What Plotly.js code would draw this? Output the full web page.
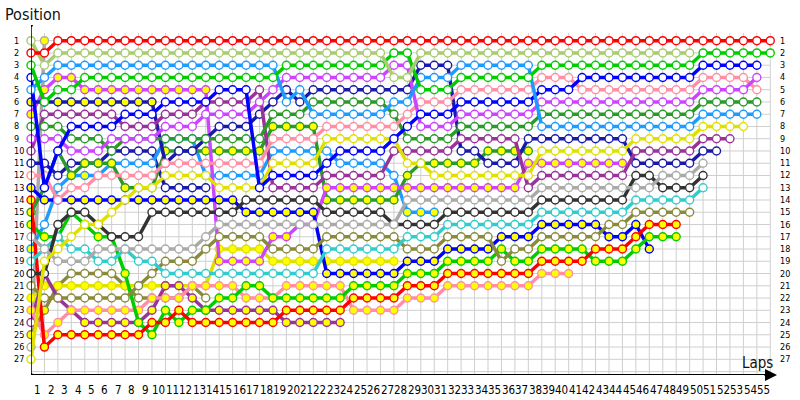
<!DOCTYPE html>
<html><head><meta charset="utf-8">
<script src="https://cdn.plot.ly/plotly-3.0.1.min.js"></script>
<style>html,body{margin:0;padding:0;background:#fff}#chart{width:800px;height:400px}</style>
</head><body><div id="chart"></div>
<script>
const laps = [0,1,2,3,4,5,6,7,8,9,10,11,12,13,14,15,16,17,18,19,20,21,22,23,24,25,26,27,28,29,30,31,32,33,34,35,36,37,38,39,40,41,42,43,44,45,46,47,48,49,50,51,52,53,54,55];
const positionTicks = [1,2,3,4,5,6,7,8,9,10,11,12,13,14,15,16,17,18,19,20,21,22,23,24,25,26,27];
const lapTickLabels = ['1','2','3','4','5','6','7','8','9','10','11','12','13','14','15','16','17','18','19','20','21','22','23','24','25','26','27','28','29','30','31','32','33','34','35','36','37','38','39','40','41','42','43','44','45','46','47','48','49','50','51','52','53','54','55'];

// running position per lap (index = lap; index 0 = grid)
const pos_red1 = [2,2,1,1,1,1,1,1,1,1,1,1,1,1,1,1,1,1,1,1,1,1,1,1,1,1,1,1,1,1,1,1,1,1,1,1,1,1,1,1,1,1,1,1,1,1,1,1,1,1,1,1,1,1,1,1];
const pos_lgreen = [1,3,2,2,2,2,2,2,2,2,2,2,2,2,2,2,2,2,2,2,2,2,2,2,2,2,2,4,4,2,2,2,2,2,2,2,2,2,2,2,2,2,2,2,2,2,2,2,2,2];
const pos_green1 = [3,6,5,5,4,4,4,4,4,4,4,4,4,4,4,4,4,4,4,3,3,3,3,3,3,3,3,2,2,5,5,5,4,4,4,4,4,4,3,3,3,3,3,3,3,3,3,3,3,3,2,2,2,2,2,2];
const pos_lblue1 = [5,4,3,3,3,3,3,3,3,3,3,3,3,3,3,3,3,3,3,6,5,7,7,7,7,7,7,6,6,4,4,4,3,3,3,3,3,3,8,8,8,8,8,8,8,8,8,8,8,8,7,7,7,7,7];
const pos_blue1 = [4,13,10,8,8,8,8,7,7,7,6,6,6,6,5,5,5,13,12,12,12,12,11,10,10,10,10,9,8,7,7,7,6,6,6,6,6,6,5,5,5,4,4,4,4,4,4,4,4,4,3,3,3,3,3];
const pos_magB = [9,9,9,10,10,10,9,9,9,9,8,8,8,7,7,7,7,6,5,4,4,4,4,4,4,4,4,3,3,8,8,8,7,7,7,7,7,7,6,6,6,6,6,6,6,6,6,6,6,6,5,5,5,5,4];
const pos_pink1 = [12,12,14,13,13,12,12,12,12,12,11,11,11,11,11,11,11,11,9,9,9,9,8,8,8,8,8,8,7,6,6,6,5,5,5,5,5,5,4,4,4,5,5,5,5,5,5,5,5,5,4,4,4,4,5];
const pos_dkgreen1 = [8,8,8,9,9,9,10,9,9,9,9,9,9,9,9,9,9,9,7,7,7,6,6,6,6,6,6,7,9,9,9,9,8,8,8,8,8,8,7,7,7,7,7,7,7,7,7,7,7,7,6,6,6,6,6];
const pos_yellow1 = [27,19,18,17,16,16,15,14,13,13,12,12,12,12,13,13,13,13,11,11,11,11,9,9,9,9,9,9,11,11,12,12,12,12,12,12,12,12,10,10,10,10,10,10,10,9,9,9,9,9,8,8,8,8];
const pos_purple1 = [10,7,7,7,7,7,7,8,8,8,7,7,7,6,6,6,6,5,13,13,13,13,12,12,12,12,12,10,10,10,10,10,9,9,9,9,9,13,12,12,12,12,12,12,12,10,10,10,10,10,9,9,9];
const pos_navy1 = [6,6,6,6,6,6,6,6,6,6,11,10,10,9,8,8,8,7,6,5,6,5,5,5,5,5,5,5,5,3,3,3,10,10,11,11,11,9,9,9,9,9,9,9,9,11,11,11,11,11,10,10];
const pos_navy2 = [11,11,12,11,11,11,10,10,10,10,13,13,13,13];
const pos_ltgrey1 = [17,18,19,19,19,18,18,18,18,18,18,18,18,17,16,16,16,16,16,16,16,16,16,16,16,16,16,16,14,14,14,14,14,14,14,14,14,14,13,13,13,13,13,13,13,13,13,12,12,12,11];
const pos_dkgrey1 = [20,20,16,15,15,16,17,17,17,15,15,15,15,15,15,15,14,14,14,14,14,14,15,15,15,15,15,16,16,16,16,15,15,15,15,15,15,15,14,14,14,14,14,14,14,12,12,13,13,13,12];
const pos_cyan1 = [19,18,17,18,18,19,19,18,19,19,20,20,20,20,20,20,20,20,20,20,20,20,18,18,18,18,18,18,17,17,17,16,16,16,16,16,16,16,15,15,15,15,15,15,15,14,14,14,14,14,13];
const pos_olive1 = [21,22,22,22,22,22,22,22,21,20,19,19,19,18,17,17,17,17,18,18,18,18,17,17,17,17,17,17,18,18,18,17,17,17,17,19,18,18,17,17,17,17,17,16,16,15,15,15,15,15];
const pos_olive2 = [25,23,21,20,20,20,20,21,22,22,22,22,21,22];
const pos_red2 = [14,26,25,25,25,25,25,25,25,24,24,23,24,24,24,24,24,24,24,23,23,23,23,23,22,22,22,22,21,21,21,20,20,20,20,20,20,20,19,19,19,19,18,18,18,17,16,16,16];
const pos_green2 = [16,17,17,15,16,17,17,20,24,25,23,24,23,23,22,22,21,21,22,22,22,22,22,22,21,21,21,21,20,20,20,19,19,19,19,18,19,19,18,18,18,18,19,19,19,18,17,17,17];
const pos_blue2 = [13,14,14,14,14,14,14,14,14,14,14,14,14,14,14,14,15,15,15,15,15,15,20,20,20,20,20,20,19,19,19,18,18,18,18,17,17,17,16,16,16,16,16,17,17,16,18];
const pos_magA = [7,5,4,4,5,5,5,5,5,5,5,5,5,5,19,19,19,19,17,17,16,16,13,13,13,13,13,13,13,13,13,13,13,13,13,13,13,11,11,11,11,11,11,11,11];
const pos_pink2 = [23,25,24,23,23,23,23,23,23,22,22,22,21,21,21,21,22,22,22,21,21,21,21,21,23,23,23,23,22,22,22,21,21,21,21,21,21,21,20,20,20];
const pos_purple2 = [24,20,22,23,24,24,24,24,24,23,21,21,22,23,23,23,23,23,23,24,24,24,24,24];
const pos_yellow2 = [22,21,21,21,21,21,21,21,21,21,21,21,21,21,18,18,18,18,19,19,19,19,19,19,19,19,19,19];
const pos_lblue2 = [18,16,13,12,12,12,11,11,11,11,9,9,9,12,12,12,12,12,10,10,10,10,10,11,11,11,11,12,15,15,15];
const pos_dkgreen2 = [15,13,10,12,11,11,11,13,13,13,10,10,10,10,10,10,10,10,8,8,8,8,14,14,14,14,14,14,12,11,11,11,11,11,10,10,10,10];
const pos_grey2 = [26,1];

// laps drawn with yellow-filled markers, as [first, last] lap ranges
const yf_red2 = [[0,48]];
const yf_green2 = [[0,48]];
const yf_blue2 = [[0,46]];
const yf_magA = [[0,44]];
const yf_pink2 = [[0,40]];
const yf_purple2 = [[1,23]];
const yf_yellow2 = [[0,27]];
const yf_lblue2 = [[0,0],[3,5],[28,30]];
const yf_dkgreen2 = [[0,37]];
const yf_navy1 = [[0,9]];
const yf_olive2 = [[0,1]];
const yf_grey2 = [[1,1]];
const none = [];

const drivers = [
  {pos: pos_grey2, col: '#aaaaaa', yf: yf_grey2},
  {pos: pos_olive2, col: '#8a8a3c', yf: yf_olive2},
  {pos: pos_navy2, col: '#1a1aaa', yf: none},
  {pos: pos_lblue2, col: '#1e9bff', yf: yf_lblue2},
  {pos: pos_yellow2, col: '#e0e000', yf: yf_yellow2},
  {pos: pos_purple2, col: '#993399', yf: yf_purple2},
  {pos: pos_dkgreen2, col: '#2a9a2a', yf: yf_dkgreen2},
  {pos: pos_pink2, col: '#ff8fa6', yf: yf_pink2},
  {pos: pos_magA, col: '#cc44ff', yf: yf_magA},
  {pos: pos_blue2, col: '#0000ff', yf: yf_blue2},
  {pos: pos_green2, col: '#00cc00', yf: yf_green2},
  {pos: pos_red2, col: '#ff0000', yf: yf_red2},
  {pos: pos_olive1, col: '#8a8a3c', yf: none},
  {pos: pos_cyan1, col: '#33cccc', yf: none},
  {pos: pos_dkgrey1, col: '#333333', yf: none},
  {pos: pos_ltgrey1, col: '#aaaaaa', yf: none},
  {pos: pos_navy1, col: '#1a1aaa', yf: yf_navy1},
  {pos: pos_purple1, col: '#993399', yf: none},
  {pos: pos_yellow1, col: '#e0e000', yf: none},
  {pos: pos_dkgreen1, col: '#2a9a2a', yf: none},
  {pos: pos_pink1, col: '#ff8fa6', yf: none},
  {pos: pos_magB, col: '#cc44ff', yf: none},
  {pos: pos_blue1, col: '#0000ff', yf: none},
  {pos: pos_lblue1, col: '#1e9bff', yf: none},
  {pos: pos_green1, col: '#00cc00', yf: none},
  {pos: pos_lgreen, col: '#a8cc70', yf: none},
  {pos: pos_red1, col: '#ff0000', yf: none}
];

function isYellow(ranges, lap) {
  return ranges.some(r => lap >= r[0] && lap <= r[1]);
}

const traces = drivers.map(d => {
  const x = laps.slice(0, d.pos.length);
  return {
    x: x, y: d.pos, type: 'scatter', mode: 'lines+markers',
    line: {color: d.col, width: 3.5},
    marker: {size: 8, color: x.map(l => isYellow(d.yf, l) ? '#ffff00' : '#ffffff'),
             line: {color: d.col, width: 1.4}},
    hoverinfo: 'skip', showlegend: false, cliponaxis: false
  };
});

const FONT = '"DejaVu Sans Condensed", "DejaVu Sans", sans-serif';
const gridRows = positionTicks.concat([28]);
const shapes = [];
laps.forEach(l => shapes.push({type: 'line', layer: 'below', xref: 'x', yref: 'y', x0: l, x1: l, y0: 0.37, y1: 28.28, line: {color: '#cfcfcf', width: 1}}));
gridRows.forEach(p => shapes.push({type: 'line', layer: 'below', xref: 'x', yref: 'y', x0: 0, x1: 55, y0: p, y1: p, line: {color: '#cfcfcf', width: 1}}));
shapes.push({type: 'line', layer: 'above', xref: 'x', yref: 'y', x0: 0, x1: 0, y0: -0.28, y1: 28.28, line: {color: '#000', width: 1.5}});
shapes.push({type: 'line', layer: 'above', xref: 'x', yref: 'y', x0: 0, x1: 55.2, y0: 28.28, y1: 28.28, line: {color: '#000', width: 2}});
shapes.push({type: 'circle', xref: 'x', yref: 'y', xsizemode: 'pixel', ysizemode: 'pixel', xanchor: 0, yanchor: -0.28, x0: -2, x1: 2, y0: -2, y1: 2, fillcolor: '#000', line: {width: 0}});
shapes.push({type: 'circle', xref: 'x', yref: 'y', xsizemode: 'pixel', ysizemode: 'pixel', xanchor: 0, yanchor: 28.28, x0: -2, x1: 2, y0: -2, y1: 2, fillcolor: '#000', line: {width: 0}});

const annotations = [];
annotations.push({text: 'Position', xref: 'paper', yref: 'paper', x: -0.037, y: 1.0286, xanchor: 'left', yanchor: 'middle', showarrow: false, font: {family: FONT, size: 16, color: '#111'}});
annotations.push({text: 'Laps', xref: 'paper', yref: 'paper', x: 0.9745, y: 0.034, xanchor: 'center', yanchor: 'middle', showarrow: false, font: {family: FONT, size: 15, color: '#111'}});
annotations.push({x: 55.5, y: 28.28, xref: 'x', yref: 'y', ax: -14, ay: 0, text: '', showarrow: true, arrowhead: 2, arrowsize: 1.2, arrowwidth: 2, arrowcolor: '#000'});
positionTicks.forEach(p => {
  annotations.push({text: String(p), xref: 'paper', yref: 'y', x: -0.0255, y: p, xanchor: 'left', yanchor: 'middle', showarrow: false, font: {family: FONT, size: 9, color: '#000'}});
  annotations.push({text: String(p), xref: 'paper', yref: 'y', x: 1.0013, y: p, xanchor: 'left', yanchor: 'middle', showarrow: false, font: {family: FONT, size: 9, color: '#000'}});
});
lapTickLabels.forEach((t, i) => {
  annotations.push({text: t, xref: 'x', yref: 'paper', x: i + 0.5, y: -0.043, xanchor: 'center', yanchor: 'middle', showarrow: false, font: {family: FONT, size: 11.5, color: '#000'}});
});

const layout = {
  width: 800, height: 400,
  margin: {l: 31, r: 23, t: 25, b: 25},
  paper_bgcolor: '#ffffff', plot_bgcolor: '#ffffff',
  xaxis: {range: [0, 55.5], showgrid: false, zeroline: false, showline: false, showticklabels: false, ticks: '', fixedrange: true},
  yaxis: {range: [28.28, -0.28], showgrid: false, zeroline: false, showline: false, showticklabels: false, ticks: '', fixedrange: true},
  shapes: shapes,
  annotations: annotations,
  showlegend: false
};

Plotly.newPlot('chart', traces, layout, {staticPlot: true, displayModeBar: false});
</script>
</body></html>
